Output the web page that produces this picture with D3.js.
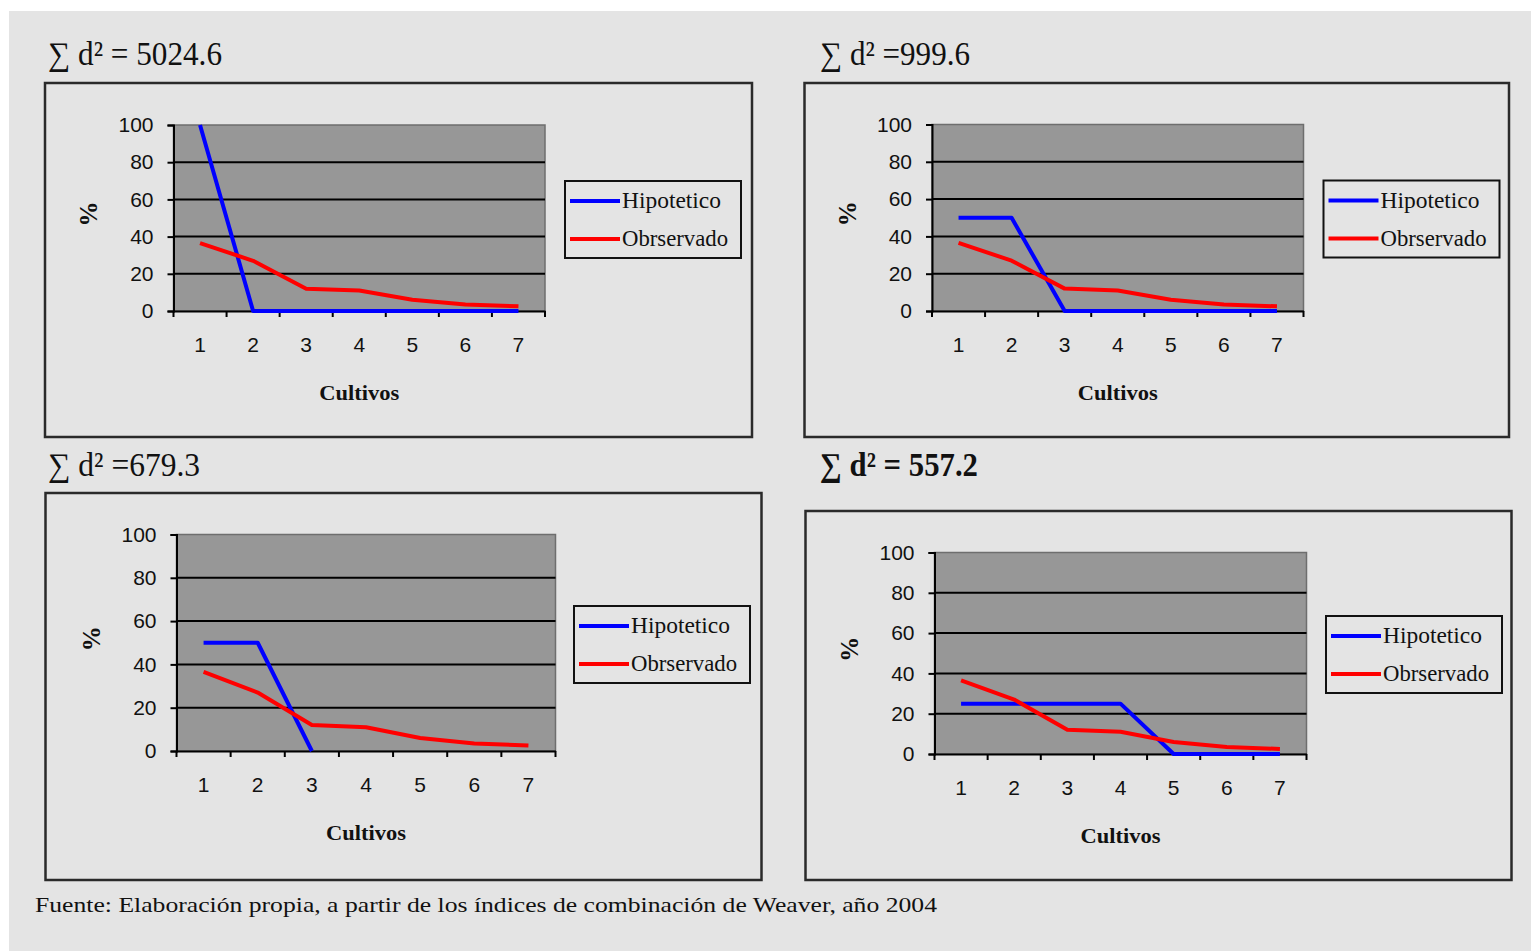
<!DOCTYPE html>
<html><head><meta charset="utf-8">
<script src="https://cdn.jsdelivr.net/npm/d3@7"></script>
<style>body{margin:0;background:#fff}</style>
</head><body>
<svg id="c" width="1531" height="951"></svg>
<script>
// ---- data ----
const categories = ["1","2","3","4","5","6","7"];
const yTicks = [0,20,40,60,80,100];
const gridValues = [20,40,60,80];
const observado = [36.5, 27, 12, 11, 6, 3.5, 2.5];
const hipotetico1 = [100, 0, 0, 0, 0, 0, 0];
const hipotetico2 = [50, 50, 0, 0, 0, 0, 0];
const hipotetico3 = [50, 50, 0];
const hipotetico4 = [25, 25, 25, 25, 0, 0, 0];
const seriesNames = ["Hipotetico", "Obrservado"];
const sumLabels = ["\u2211 d\u00b2 = 5024.6", "\u2211 d\u00b2 =999.6", "\u2211 d\u00b2 =679.3", "\u2211 d\u00b2 = 557.2"];
const xTitle = "Cultivos";
const yTitle = "%";
const footer = "Fuente: Elaboración propia, a partir de los índices de combinación de Weaver, año 2004";

// ---- layout ----
const panels = [
  {hyp: hipotetico1, title: sumLabels[0], bold: false, tx: 48, ty: 65, tw: 174,
   box: [45, 83, 752, 437], plot: [173.5, 125, 545, 311], leg: [565, 181]},
  {hyp: hipotetico2, title: sumLabels[1], bold: false, tx: 820, ty: 65, tw: 150,
   box: [804.5, 83, 1509, 437], plot: [932, 124.5, 1303.5, 311], leg: [1323.5, 180.5]},
  {hyp: hipotetico3, title: sumLabels[2], bold: false, tx: 48, ty: 476, tw: 152,
   box: [45.5, 493, 761.5, 880], plot: [176.5, 534.5, 555.5, 751], leg: [574, 606]},
  {hyp: hipotetico4, title: sumLabels[3], bold: true, tx: 820, ty: 476, tw: 158,
   box: [805.5, 511, 1511.5, 880], plot: [934.5, 552.5, 1306.5, 754], leg: [1326, 616]}
];
const colors = ["#0000ff", "#ff0000"];
const serif = "'Liberation Serif','Times New Roman',serif";
const sans = "'Liberation Sans',Arial,sans-serif";

const svg = d3.select("#c");
svg.append("rect").attr("x", 9).attr("y", 11).attr("width", 1531 - 9).attr("height", 951 - 11).attr("fill", "#e4e4e4");

panels.forEach(p => {
  const g = svg.append("g");
  const [bx0, by0, bx1, by1] = p.box;
  g.append("rect").attr("x", bx0).attr("y", by0).attr("width", bx1 - bx0).attr("height", by1 - by0)
    .attr("fill", "none").attr("stroke", "#2a2a2a").attr("stroke-width", 2.5);

  g.append("text").attr("x", p.tx).attr("y", p.ty).text(p.title)
    .attr("font-family", serif).attr("font-size", 33).attr("font-weight", p.bold ? "bold" : "normal")
    .attr("fill", "#111").attr("textLength", p.tw).attr("lengthAdjust", "spacingAndGlyphs");

  const [px0, py0, px1, py1] = p.plot;
  const x = d3.scaleBand().domain(categories).range([px0, px1]).padding(0);
  const y = d3.scaleLinear().domain([0, 100]).range([py1, py0]);

  g.append("rect").attr("x", px0).attr("y", py0).attr("width", px1 - px0).attr("height", py1 - py0)
    .attr("fill", "#979797").attr("stroke", "#6e6e6e").attr("stroke-width", 1.5);

  g.selectAll(".grid").data(gridValues).enter().append("line")
    .attr("x1", px0).attr("x2", px1).attr("y1", d => y(d)).attr("y2", d => y(d))
    .attr("stroke", "#000").attr("stroke-width", 2);

  // y axis
  const ya = g.append("g").attr("transform", `translate(${px0},0)`)
    .call(d3.axisLeft(y).tickValues(yTicks).tickSize(6).tickPadding(14).tickFormat(d3.format("d")));
  ya.select(".domain").attr("stroke", "#000").attr("stroke-width", 2);
  ya.selectAll(".tick line").attr("stroke", "#000").attr("stroke-width", 2);
  ya.selectAll("text").attr("font-family", sans).attr("font-size", 21).attr("fill", "#111");

  // x axis: labels centered, ticks at band boundaries
  const xa = g.append("g").attr("transform", `translate(0,${py1})`)
    .call(d3.axisBottom(x).tickSize(0).tickPadding(26));
  xa.select(".domain").attr("stroke", "#000").attr("stroke-width", 2);
  xa.selectAll("text").attr("font-family", sans).attr("font-size", 21).attr("fill", "#111");
  const bounds = categories.map(c => x(c)).concat([px1]);
  g.selectAll(".xt").data(bounds).enter().append("line")
    .attr("x1", d => d).attr("x2", d => d).attr("y1", py1).attr("y2", py1 + 6)
    .attr("stroke", "#000").attr("stroke-width", 2);

  // series
  const line = d3.line().x((d, i) => x(categories[i]) + x.bandwidth() / 2).y(d => y(d));
  [p.hyp, observado].forEach((s, k) => {
    g.append("path").datum(s).attr("d", line).attr("fill", "none")
      .attr("stroke", colors[k]).attr("stroke-width", 4).attr("stroke-linejoin", "round");
  });

  // axis titles
  g.append("text").attr("x", (px0 + px1) / 2).attr("y", py1 + 89).attr("text-anchor", "middle")
    .attr("font-family", serif).attr("font-size", 22).attr("font-weight", "bold").attr("fill", "#111")
    .attr("textLength", 80).attr("lengthAdjust", "spacingAndGlyphs").text(xTitle);
  const ylx = px0 - 85, yly = (py0 + py1) / 2 - 4;
  g.append("text").attr("transform", `translate(${ylx},${yly}) rotate(-90)`)
    .attr("text-anchor", "middle").attr("dy", "0.35em")
    .attr("font-family", serif).attr("font-size", 25).attr("font-weight", "bold").attr("fill", "#111").text(yTitle);

  // legend
  const [lx, ly] = p.leg;
  const lg = g.append("g").attr("transform", `translate(${lx},${ly})`);
  lg.append("rect").attr("width", 176).attr("height", 77).attr("fill", "none")
    .attr("stroke", "#111").attr("stroke-width", 2);
  const lw = [99, 106];
  seriesNames.forEach((n, k) => {
    const yy = k === 0 ? 20 : 58;
    lg.append("line").attr("x1", 5).attr("x2", 55).attr("y1", yy).attr("y2", yy)
      .attr("stroke", colors[k]).attr("stroke-width", 4);
    lg.append("text").attr("x", 57).attr("y", yy + 7).text(n)
      .attr("font-family", serif).attr("font-size", 23).attr("fill", "#111")
      .attr("textLength", lw[k]).attr("lengthAdjust", "spacingAndGlyphs");
  });
});

svg.append("text").attr("x", 35).attr("y", 912).text(footer)
  .attr("font-family", serif).attr("font-size", 22).attr("fill", "#111")
  .attr("textLength", 902).attr("lengthAdjust", "spacingAndGlyphs");
</script>
</body></html>
